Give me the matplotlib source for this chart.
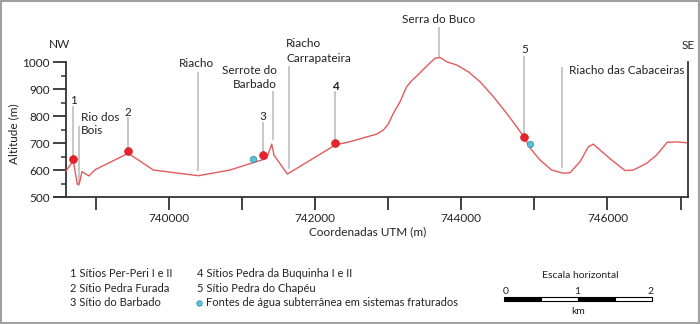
import matplotlib
matplotlib.use("Agg")
import matplotlib.pyplot as plt
from matplotlib.patches import Rectangle

plt.rcParams['font.family'] = ['Lato', 'DejaVu Sans']

# ---------------- data ----------------
profile_x = [738591, 738691, 738746, 738773, 738810, 738851, 738906, 738988, 739444,
             739786, 740401, 740835, 741337, 741406, 741437, 741620, 742277, 742477,
             742751, 742843, 742933, 743001, 743070, 743162, 743253, 743322, 743435,
             743527, 743640, 743709, 743800, 743937, 744096, 744256, 744438, 744621,
             744758, 744872, 744940, 745077, 745237, 745396, 745488, 745625, 745738,
             745807, 745898, 746058, 746240, 746354, 746537, 746674, 746819, 746946,
             747083]
profile_y = [598, 635, 548, 550, 595, 588, 579, 602, 663,
             601, 580, 601, 644, 697, 656, 586, 694, 706,
             727, 734, 749, 771, 811, 854, 910, 932, 961,
             986, 1015, 1018, 1002, 990, 965, 928, 873, 811,
             761, 718, 683, 638, 601, 589, 591, 632, 687,
             697, 675, 638, 599, 601, 626, 657, 704, 705,
             702]

site_labels = ["1", "2", "3", "4", "5"]
site_x = [738691, 739444, 741283, 742272, 744862]
site_y = [641, 671, 656, 700, 723]

spring_x = [741154, 744940]
spring_y = [642, 696]

yticks = [500, 600, 700, 800, 900, 1000]
xticks_major = [740000, 742000, 744000, 746000]
xticks_minor = [739000, 741000, 743000, 745000, 747000]
xtick_labels = ["740000", "742000", "744000", "746000"]

legend_col1 = ["1 Sítios Per-Peri I e II", "2 Sítio Pedra Furada", "3 Sítio do Barbado"]
legend_col2 = ["4 Sítios Pedra da Buquinha I e II", "5 Sítio Pedra do Chapéu"]
legend_spring = "Fontes de água subterrânea em sistemas fraturados"

# ---------------- figure ----------------
W, H = 700, 324
fig = plt.figure(figsize=(W / 100, H / 100), dpi=100)

ov = fig.add_axes([0, 0, 1, 1])
ov.set_xlim(0, W)
ov.set_ylim(H, 0)
ov.axis('off')

# outer border
ov.add_patch(Rectangle((0.8, 0.8), W - 1.6, H - 1.6, fill=False, ec='#a0a0a0', lw=1.5))

L, R, T, B = 65.7, 687.7, 62.3, 197.3
ax = fig.add_axes([L / W, 1 - B / H, (R - L) / W, (B - T) / H])
ax.set_xlim(738587, 747098)
ax.set_ylim(500, 1000)
ax.patch.set_alpha(0)

spc = '#333333'
for s in ['left', 'right', 'bottom']:
    ax.spines[s].set_color(spc)
    ax.spines[s].set_linewidth(1.3)
ax.spines['top'].set_visible(False)
ov.plot([53, L], [B, B], color=spc, lw=1.3, solid_capstyle='butt')

ax.set_yticks(yticks)
ax.set_yticks([550, 650, 750, 850, 950], minor=True)
ax.set_xticks(xticks_major)
ax.set_xticklabels(xtick_labels)
ax.set_xticks(xticks_minor, minor=True)
ax.tick_params(axis='x', which='both', length=9, width=1.3, color=spc, labelsize=8.5,
               pad=2, labelcolor='#222222')
ax.tick_params(axis='y', which='major', length=9.5, width=1.3, color=spc, labelsize=8.5,
               pad=2, labelcolor='#222222')
ax.tick_params(axis='y', which='minor', length=3.6, width=1.1, color=spc)

ov.text(13.3, 133.3, "Altitude (m)", rotation=90, ha='center', va='center', fontsize=8.5, color='#222222')
ov.text(367.5, 232, "Coordenadas UTM (m)", ha='center', va='center', fontsize=8.5, color='#222222')

# profile
ax.plot(profile_x, profile_y, color='#e45a5c', lw=1.0, clip_on=False, zorder=3)

gray = '#c3c3c3'
glw = 1.3

def vline(x, y0, y1):
    ax.plot([x, x], [y0, y1], color=gray, lw=glw, clip_on=False, zorder=2)

fs = 8.5
tc = '#222222'
# site label lines
site_text_y = [857, 815, 798, 912, 1048]
site_line_top = [834, 794, 774, 891, 1021]
for lab, x, y, ty, lt in zip(site_labels, site_x, site_y, site_text_y, site_line_top):
    vline(x, y + 8, lt)
    ax.text(x, ty, lab, ha='center', va='center', fontsize=fs, color=tc,
            fontweight='bold' if lab == '4' else 'normal', clip_on=False)

# place-name lines and labels
vline(738765, 545, 761)
ax.text(738800, 796, "Rio dos", ha='left', va='center', fontsize=fs, color=tc)
ax.text(738800, 747, "Bois", ha='left', va='center', fontsize=fs, color=tc)

vline(740401, 601, 959)
ax.text(740380, 996, "Riacho", ha='center', va='center', fontsize=fs, color=tc)

vline(741420, 715, 891)
ax.text(741474, 969, "Serrote do", ha='right', va='center', fontsize=fs, color=tc)
ax.text(741474, 918, "Barbado", ha='right', va='center', fontsize=fs, color=tc)

vline(741643, 607, 984)
ax.text(741602, 1068, "Riacho", ha='left', va='center', fontsize=fs, color=tc)
ax.text(741602, 1015, "Carrapateira", ha='left', va='center', fontsize=fs, color=tc)

vline(743691, 1023, 1126)
ax.text(743686, 1157, "Serra do Buco", ha='center', va='center', fontsize=fs, color=tc)

vline(745378, 613, 978)
ax.text(745478, 970, "Riacho das Cabaceiras", ha='left', va='center', fontsize=fs, color=tc)

ax.text(747107, 1064, "SE", ha='center', va='center', fontsize=fs, color=tc)
ax.text(738509, 1067, "NW", ha='center', va='center', fontsize=fs, color=tc)

# markers
ax.plot(site_x, site_y, 'o', ms=5.5, color='#e8232b', mec='#d01e25', mew=0.6,
        clip_on=False, zorder=5)
ax.plot(spring_x, spring_y, 'o', ms=4.5, color='#5bc2d8', mec='#2f8fa8', mew=0.6,
        clip_on=False, zorder=5)

# legend
lfs = 8
for i, t in enumerate(legend_col1):
    ov.text(70, 273.3 + 14.7 * i, t, ha='left', va='center', fontsize=lfs, color=tc)
for i, t in enumerate(legend_col2):
    ov.text(196.7, 273.3 + 14.7 * i, t, ha='left', va='center', fontsize=lfs, color=tc)
ov.plot([199], [302.7], 'o', ms=4, color='#5bc2d8', mec='#2f8fa8', mew=0.5)
ov.text(206, 302.7, legend_spring, ha='left', va='center', fontsize=lfs, color=tc)

# scale bar
ov.text(580, 275, "Escala horizontal", ha='center', va='center', fontsize=7.5, color=tc)
x0, x1 = 504.3, 651.7
seg = (x1 - x0) / 4
for k in range(4):
    fc = 'black' if k % 2 == 0 else 'white'
    ov.add_patch(Rectangle((x0 + k * seg, 296.7), seg, 4.5, fc=fc, ec='black', lw=0.8))
for lab, xx in zip(["0", "1", "2"], [505.7, 577.3, 650]):
    ov.text(xx, 291.5, lab, ha='center', va='center', fontsize=7.5, color=tc)
ov.text(578.3, 311.7, "km", ha='center', va='center', fontsize=7.5, color=tc)

fig.savefig("out.png", dpi=100)
